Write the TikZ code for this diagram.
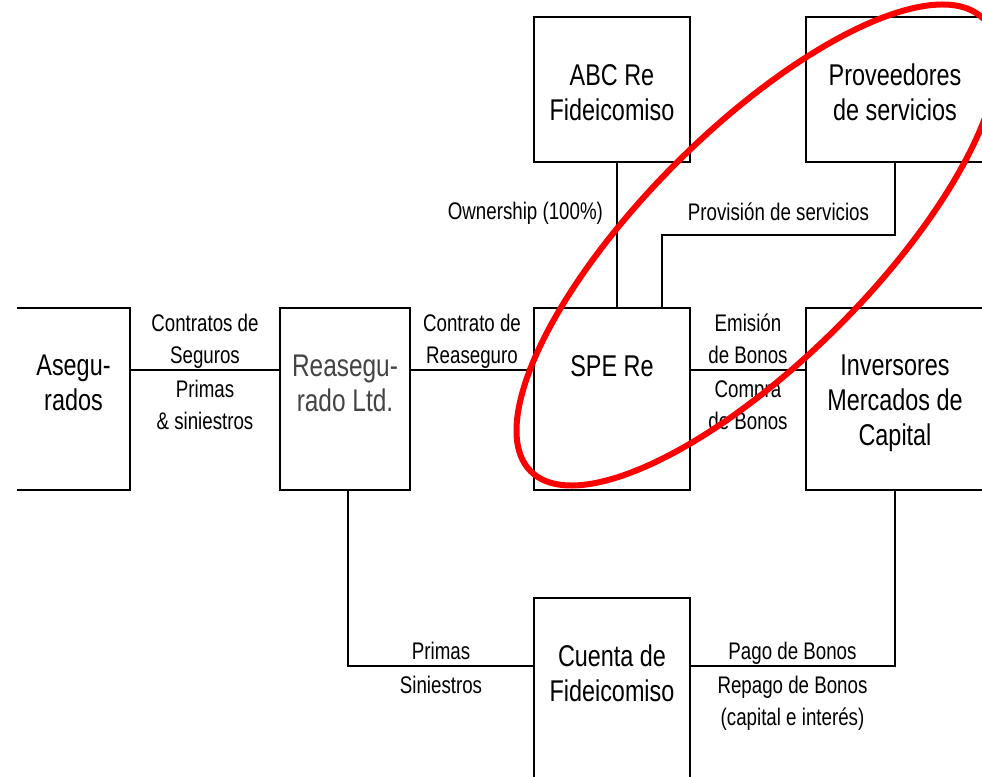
\documentclass[tikz,border=0pt]{standalone}
\usepackage{fontspec}
\setmainfont[FakeStretch=0.78]{Liberation Sans}
\usepackage{tikz}
\usetikzlibrary{positioning}
\definecolor{reagray}{RGB}{68,68,68}
\tikzset{
   cash flow/.style={%px grid of the picture, y runs down
      every node/.style={font=\fontsize{18}{24}\selectfont, align=center, inner sep=0pt},
      line width=1.6pt,
      x=0.75pt, y=-0.75pt},
   box/.style={draw, outer sep=0pt, minimum width=117pt, minimum height=136.5pt},
   box text/.style={font=\fontsize{22.5}{26.25}\selectfont, below=34.5pt of #1.north},
   upper/.style={above=4pt, text depth=0pt},
   lower/.style={below=7pt},
   ring/.style={red, line width=4.5pt}
}
\begin{document}
\begin{tikzpicture}[cash flow]
  \useasboundingbox (0,0) rectangle (982,777);
  \node[box] (SPE) at (612,399) {};
  \node[box, minimum width=97.5pt, left=93pt of SPE] (Rea) {};
  \node[box, draw=none, minimum width=84.75pt, left=112.5pt of Rea] (Aseg) {};
  \node[box, minimum width=133.5pt, right=87pt of SPE] (Inv) {};
  \node[box, minimum height=108.75pt, above=109.5pt of SPE] (ABC) {};
  \node[box, minimum width=133.5pt, minimum height=108.75pt, above=109.5pt of Inv] (Prov) {};
  \node[box, minimum height=150pt, below=81pt of SPE] (Cta) {};
  \draw (Aseg.north west) -- (Aseg.north east) -- (Aseg.south east) -- (Aseg.south west);
  % names in the boxes
  \node[box text=Aseg] (Aseg_name) {Asegu-\\rados};
  \node[box text=Rea, text=reagray, font=\fontsize{23.5}{26.25}\selectfont] (Rea_name) {Reasegu-\\rado Ltd.};
  \node[box text=SPE] (SPE_name) {SPE Re};
  \node[box text=Inv] (Inv_name) {Inversores\\Mercados de\\Capital};
  \node[box text=ABC] (ABC_name) {ABC Re\\Fideicomiso};
  \node[box text=Prov] (Prov_name) {Proveedores\\de servicios};
  \node[box text=Cta] (Cta_name) {Cuenta de\\Fideicomiso};
  % flows
  \draw ([yshift=21.75pt]Aseg.east) -- node[upper] {Contratos de\\Seguros} node[lower] {Primas\\\& siniestros} ([yshift=21.75pt]Rea.west);
  \draw ([yshift=21.75pt]Rea.east) -- node[upper] {Contrato de\\Reaseguro} ([yshift=21.75pt]SPE.west);
  \draw ([yshift=21.75pt]SPE.east) -- node[upper] {Emisión\\de Bonos} node[lower] {Compra\\de Bonos} ([yshift=21.75pt]Inv.west);
  \draw ([xshift=3.75pt]ABC.south) -- node[pos=.35, left=9.75pt] {Ownership (100\%)} ([xshift=3.75pt]SPE.north);
  \draw (Prov.south) |- node[pos=.75, above=10pt] {Provisión de servicios} ([xshift=37.5pt, yshift=54.75pt]SPE.north) -- ([xshift=37.5pt]SPE.north);
  \draw ([xshift=2.25pt]Rea.south) |- node[pos=.75, upper] {Primas} node[pos=.75, lower] {Siniestros} ([yshift=-51pt]Cta.north west);
  \draw (Inv.south) |- node[pos=.75, upper] {Pago de Bonos} node[pos=.75, lower] {Repago de Bonos\\(capital e interés)} ([yshift=-51pt]Cta.north east);
  \draw[ring, rotate around={45:(757,245)}] (757,245) ellipse [x radius=320, y radius=115];
\end{tikzpicture}
\end{document}
